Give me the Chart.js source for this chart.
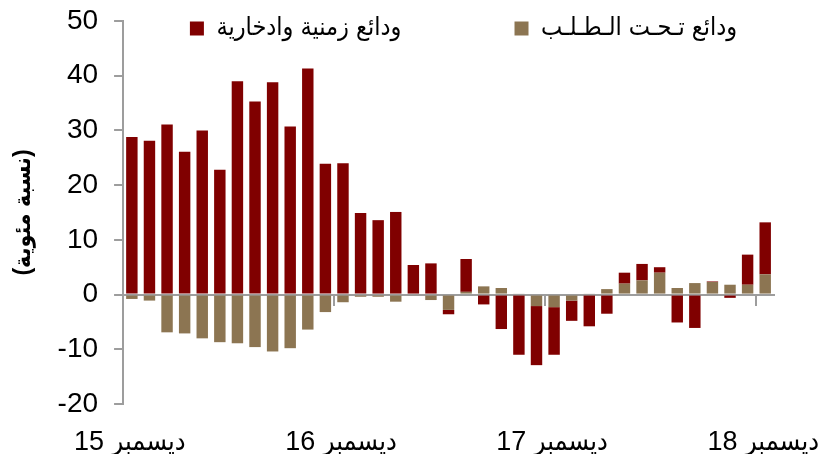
<!DOCTYPE html>
<html lang="ar">
<head>
<meta charset="utf-8">
<title>ودائع</title>
<script src="https://cdn.jsdelivr.net/npm/chart.js@4/dist/chart.umd.min.js"></script>
<style>
  html, body { margin: 0; padding: 0; background: #fff; }
  #chart { display: block; }
</style>
</head>
<body>
<canvas id="chart" width="819" height="454"></canvas>
<script>
// monthly categories, Dec 2015 .. Dec 2018
const months = [
  '2015-12', '2016-01', '2016-02', '2016-03', '2016-04', '2016-05', '2016-06',
  '2016-07', '2016-08', '2016-09', '2016-10', '2016-11', '2016-12',
  '2017-01', '2017-02', '2017-03', '2017-04', '2017-05', '2017-06',
  '2017-07', '2017-08', '2017-09', '2017-10', '2017-11', '2017-12',
  '2018-01', '2018-02', '2018-03', '2018-04', '2018-05', '2018-06',
  '2018-07', '2018-08', '2018-09', '2018-10', '2018-11', '2018-12'
]

// shown every 12 months (number first so it reads right in an LTR canvas)
const xTickLabels = ['15 ديسمبر', '16 ديسمبر', '17 ديسمبر', '18 ديسمبر']

const timeDeposits = [
  28.8, 28.1, 31.1, 26.1, 30.0, 22.8, 39.0, 35.3, 38.8, 30.7,
  41.3, 23.9, 24.0, 14.9, 13.6, 15.1, 5.4, 5.7, -0.8, 6.0,
  -1.8, -6.3, -11.0, -10.8, -8.7, -3.7, -5.8, -3.5, 2.0, 3.0,
  1.0, -5.1, -6.1, 0.1, -0.6, 5.5, 9.5
]

const demandDeposits = [
  -0.8, -1.1, -6.9, -7.1, -8.0, -8.7, -8.9, -9.6, -10.4, -9.8,
  -6.4, -3.2, -1.4, -0.4, -0.4, -1.3, -0.2, -1.0, -2.8, 0.5,
  1.5, 1.2, 0.2, -2.1, -2.3, -1.1, 0.2, 1.0, 2.0, 2.6,
  4.0, 1.2, 2.1, 2.3, 1.8, 1.8, 3.7
]

const FONT = "Arial, 'Liberation Sans', 'DejaVu Sans Condensed', 'DejaVu Sans', sans-serif"
const AXIS_GREY = '#9d9d9d'
const GAP = '\u00a0'

// the legend row overlaps the top of the plot, so let it draw below its own box
const legendOverlap = {
  id: 'legendOverlap',
  afterLayout (chart) {
    chart.legend.bottom += 30
    chart.legend.height += 30
  }
}

new Chart(document.getElementById('chart'), {
  type: 'bar',
  data: {
    labels: months,
    datasets: [
      {
        // tan sits next to zero, so it stacks first
        label: 'ودائع تـحـت الـطـلـب' + GAP.repeat(3),
        data: demandDeposits,
        backgroundColor: '#8c7552',
        order: 0
      },
      {
        label: 'ودائع زمنية وادخارية' + GAP.repeat(14),
        data: timeDeposits,
        backgroundColor: '#800000',
        order: 1
      }
    ]
  },
  plugins: [legendOverlap],
  options: {
    responsive: false,
    animation: false,
    layout: { padding: { left: 0, right: 45, top: 0, bottom: 0 } },
    datasets: {
      bar: { barPercentage: 0.65, categoryPercentage: 1 }
    },
    plugins: {
      tooltip: { enabled: false },
      legend: {
        position: 'top',
        align: 'end',
        fullSize: false,
        reverse: true,
        maxHeight: 21,
        labels: {
          boxWidth: 14,
          boxHeight: 14,
          padding: 16,
          color: '#000',
          font: { family: FONT, size: 25 }
        }
      }
    },
    scales: {
      x: {
        stacked: true,
        grid: { display: false, drawTicks: false },
        border: { display: false },
        ticks: {
          autoSkip: false,
          maxRotation: 0,
          padding: 25,
          labelOffset: -2,
          color: '#000',
          font: { family: FONT, size: 27, lineHeight: 1 },
          callback: (value, index) => (index % 12 === 0 ? xTickLabels[index / 12] : '')
        },
        afterFit: (scale) => {
          scale.height = 50
          scale.paddingLeft = 0
          scale.paddingRight = 0
        }
      },
      // zero line with the yearly tick marks hanging below it
      x2: {
        type: 'category',
        position: { y: 0 },
        offset: true,
        z: 1,
        grid: {
          offset: true,
          drawOnChartArea: false,
          drawTicks: true,
          tickLength: 10,
          lineWidth: 2,
          color: (ctx) => (ctx.index > 0 && ctx.index % 12 === 0 ? AXIS_GREY : 'rgba(0,0,0,0)')
        },
        border: { display: true, color: AXIS_GREY, width: 2 },
        ticks: { display: false, autoSkip: false }
      },
      y: {
        stacked: true,
        min: -20,
        max: 50,
        ticks: {
          stepSize: 10,
          padding: 16,
          color: '#000',
          font: { family: FONT, size: 28 }
        },
        grid: {
          drawOnChartArea: false,
          tickLength: 9,
          lineWidth: 2,
          color: AXIS_GREY
        },
        border: { color: AXIS_GREY, width: 2 },
        title: {
          display: true,
          text: '(نسبة مئوية)',
          color: '#000',
          padding: { top: 10, bottom: 4 },
          font: { family: FONT, size: 23, weight: 'bold' }
        },
        afterFit: (scale) => {
          scale.paddingTop = 0
          scale.paddingBottom = 0
        }
      }
    }
  }
})
</script>
</body>
</html>
